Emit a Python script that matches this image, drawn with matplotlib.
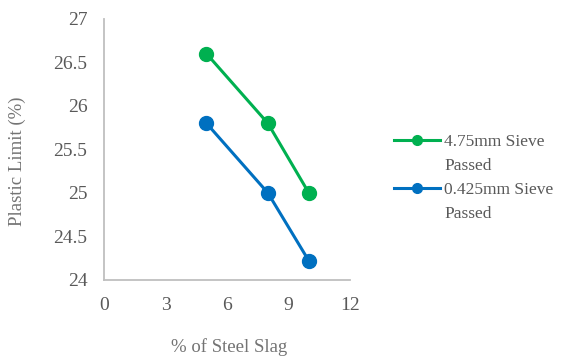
import matplotlib
matplotlib.use('Agg')
import matplotlib.pyplot as plt
from matplotlib.lines import Line2D

# plastic limit vs steel slag content
slag_pct = [5, 8, 10]
pl_475 = [26.6, 25.8, 25.0]
pl_0425 = [25.8, 25.0, 24.22]
series_names = ['4.75mm Sieve', '0.425mm Sieve']
name_suffix = 'Passed'

green = '#00B050'
blue = '#0070C0'

plt.rcParams['font.family'] = ['Liberation Serif', 'DejaVu Serif']
txt = '#595959'
title_col = '#737373'
axis_col = '#BFBFBF'

fig = plt.figure(figsize=(5.66, 3.56), dpi=100)
ax = fig.add_axes([0.184, 0.2135, 0.434, 0.7335])

ax.plot(slag_pct, pl_475, color=green, lw=2.2, marker='o', ms=10)
ax.plot(slag_pct, pl_0425, color=blue, lw=2.2, marker='o', ms=10)

ax.set_xlim(0, 12)
ax.set_ylim(24, 27)
ax.set_xticks([0, 3, 6, 9, 12])
ax.set_yticks([24, 24.5, 25, 25.5, 26, 26.5, 27])
ax.set_yticklabels(['24', '24.5', '25', '25.5', '26', '26.5', '27'])

for s in ['top', 'right']:
    ax.spines[s].set_visible(False)
for s in ['left', 'bottom']:
    ax.spines[s].set_color(axis_col)
    ax.spines[s].set_linewidth(1.3)
ax.tick_params(length=0, labelsize=14, colors=txt)
ax.tick_params(axis='x', pad=12)
ax.tick_params(axis='y', pad=12)

fig.text(0.405, 0.025, '% of Steel Slag', ha='center', va='center', fontsize=13.5, color=title_col)
fig.text(0.031, 0.548, 'Plastic Limit (%)', ha='center', va='center', rotation=90,
         fontsize=13.5, color=title_col)

# legend: wrapped names, second line has no handle
h_g = Line2D([], [], color=green, lw=2.2, marker='o', ms=7)
h_b = Line2D([], [], color=blue, lw=2.2, marker='o', ms=7)
blank = Line2D([], [], color='none')
handles = [h_g, blank, h_b, blank]
labels = [series_names[0], name_suffix, series_names[1], name_suffix]
leg = fig.legend(handles, labels, loc='center left', bbox_to_anchor=(0.668, 0.5), frameon=False,
                 fontsize=12.5, handlelength=2.65, handletextpad=0.25, labelspacing=0.45)
for t in leg.get_texts():
    t.set_color(txt)

fig.savefig('out.png', dpi=100)
